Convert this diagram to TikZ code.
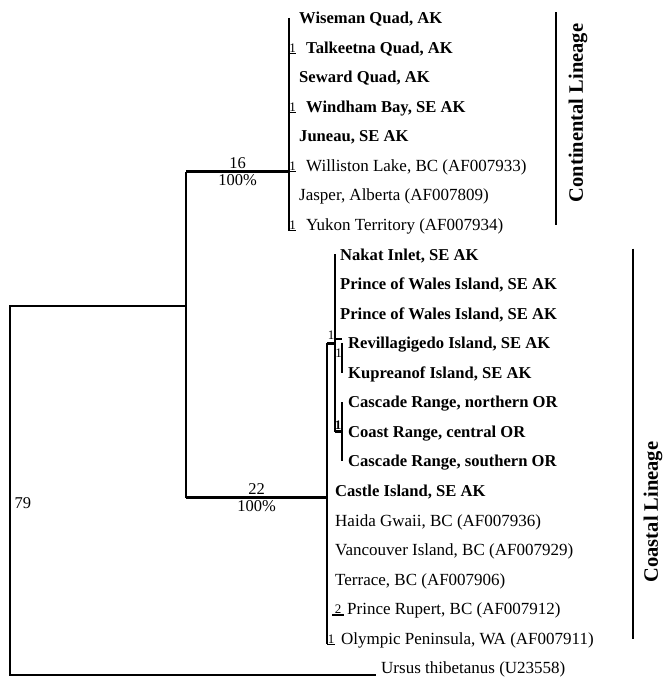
\documentclass[tikz,border=0pt]{standalone}
\usepackage{fontspec}
\setmainfont{Liberation Serif}
\usetikzlibrary{positioning}

\tikzset{
  leaf/.style={anchor=west, inner sep=0pt, text height=11.3pt, text depth=0pt, font=\fontsize{17}{19}\selectfont},
  bleaf/.style={leaf, font=\bfseries\fontsize{16.6}{19}\selectfont},
  branch/.style={line width=2.8pt},
  twig/.style={line width=1.4pt},
  boot/.style={font=\fontsize{13}{14}\selectfont, inner sep=0.5pt},
  support/.style={font=\fontsize{16.5}{18}\selectfont, inner sep=1.5pt},
  bar/.style={line width=2.2pt},
  lineage/.style={font=\bfseries\fontsize{20.5}{22}\selectfont, rotate=90},
}

\begin{document}
\begin{tikzpicture}[x=1pt,y=-1pt]
        \useasboundingbox (0,0) rectangle (662,679);

        % Leaves
        \node[bleaf] (wiseman)   at (299, 18.0) {Wiseman Quad, AK};
        \node[bleaf] (talkeetna) at (306, 47.6) {Talkeetna Quad, AK};
        \node[bleaf] (seward)    at (299, 77.1) {Seward Quad, AK};
        \node[bleaf] (windham)   at (306,106.7) {Windham Bay, SE AK};
        \node[bleaf] (juneau)    at (299,136.2) {Juneau, SE AK};
        \node[leaf]  (williston) at (306,165.8) {Williston Lake, BC (AF007933)};
        \node[leaf]  (jasper)    at (299,195.3) {Jasper, Alberta (AF007809)};
        \node[leaf]  (yukon)     at (306,224.9) {Yukon Territory (AF007934)};
        \node[bleaf] (nakat)     at (340,254.4) {Nakat Inlet, SE AK};
        \node[bleaf] (pwia)      at (340,284.0) {Prince of Wales Island, SE AK};
        \node[bleaf] (pwib)      at (340,313.5) {Prince of Wales Island, SE AK};
        \node[bleaf] (revilla)   at (348,343.1) {Revillagigedo Island, SE AK};
        \node[bleaf] (kupreanof) at (348,372.6) {Kupreanof Island, SE AK};
        \node[bleaf] (cascnorth) at (348,402.2) {Cascade Range, northern OR};
        \node[bleaf] (coastr)    at (348,431.7) {Coast Range, central OR};
        \node[bleaf] (cascsouth) at (348,461.3) {Cascade Range, southern OR};
        \node[bleaf] (castle)    at (335,490.8) {Castle Island, SE AK};
        \node[leaf]  (haida)     at (335,520.4) {Haida Gwaii, BC (AF007936)};
        \node[leaf]  (vancouver) at (335,549.9) {Vancouver Island, BC (AF007929)};
        \node[leaf]  (terrace)   at (335,579.5) {Terrace, BC (AF007906)};
        \node[leaf]  (rupert)    at (347,609.0) {Prince Rupert, BC (AF007912)};
        \node[leaf]  (olympic)   at (341,638.6) {Olympic Peninsula, WA (AF007911)};
        \node[leaf]  (ursus)     at (381,668.1) {Ursus thibetanus (U23558)};

        % Internal nodes
        \coordinate (root) at (10,306);
        \coordinate (mid) at (186,306);
        \coordinate (cont) at (289,0);
        \coordinate (coast) at (327,0);
        \coordinate (coastin) at (335,0);
        \coordinate (sub) at (342,0);

        % Root and outgroup
        \draw[branch] (mid) -- (root) |- ([xshift=-5pt,yshift=-1pt]ursus.south west);
        \node[support, anchor=west] (n79) at (13,503) {79};
        \draw[branch] (mid |- williston.south) -- ([yshift=-1pt]mid |- castle.south);

        % Continental clade
        \draw[branch] (mid |- williston.south) -- node[support, above] {16} node[support, below] {100\%} (cont |- williston.south);
        \draw[branch] (cont |- wiseman.west) -- (cont |- yukon.south);
        \draw[twig] (cont |- talkeetna.south) -- ++(7,0) node[boot, midway, above] {1};
        \draw[twig] (cont |- windham.south) -- ++(7,0) node[boot, midway, above] {1};
        \draw[twig] (cont |- williston.south) -- ++(7,0) node[boot, midway, above] {1};
        \draw[twig] (cont |- yukon.south) -- ++(7,0) node[boot, midway, above] {1};

        % Coastal clade
        \draw[branch] ([yshift=-1pt]mid |- castle.south) -- node[support, above] {22} node[support, below] {100\%} ([yshift=-1pt]coast |- castle.south);
        \draw[branch] (coast |- revilla.west) -- (coast |- olympic.south);
        \draw[twig] (coast |- olympic.south) -- ++(8,0) node[boot, midway, above] {1};
        \draw[branch] (coast |- revilla.west) -- node[boot, above=2pt] {1} (coastin |- revilla.west);
        \draw[branch] (coastin |- nakat.west) -- (coastin |- coastr.west);
        \draw[twig] ([yshift=4pt]coastin |- revilla.west) -- ([yshift=4pt]sub |- revilla.west);
        \draw[twig] (sub |- revilla.west) -- (sub |- kupreanof.west);
        \node[boot] (b1rk) at (338.5,353) {1};
        \draw[twig] (sub |- cascnorth.west) -- (sub |- cascsouth.west);
        \draw[branch] (coastin |- coastr.west) -- (sub |- coastr.west);
        \node[boot, font=\bfseries\fontsize{13}{14}\selectfont] (b1cc) at (338,425) {1};
        \draw[twig] ([xshift=-15pt]rupert.south west) -- ++(12,0) node[boot, midway, above] {2};

        % Lineage bars
        \coordinate (contbar) at (556,0);
        \coordinate (coastbar) at (633,0);
        \draw[bar] (contbar |- wiseman.north) -- (contbar |- yukon.west);
        \node[lineage] (contlab) at (578,113) {Continental Lineage};
        \draw[bar] (coastbar |- nakat.north) -- (coastbar |- olympic.west);
        \node[lineage] (coastlab) at (653,512) {Coastal Lineage};

\end{tikzpicture}
\end{document}
